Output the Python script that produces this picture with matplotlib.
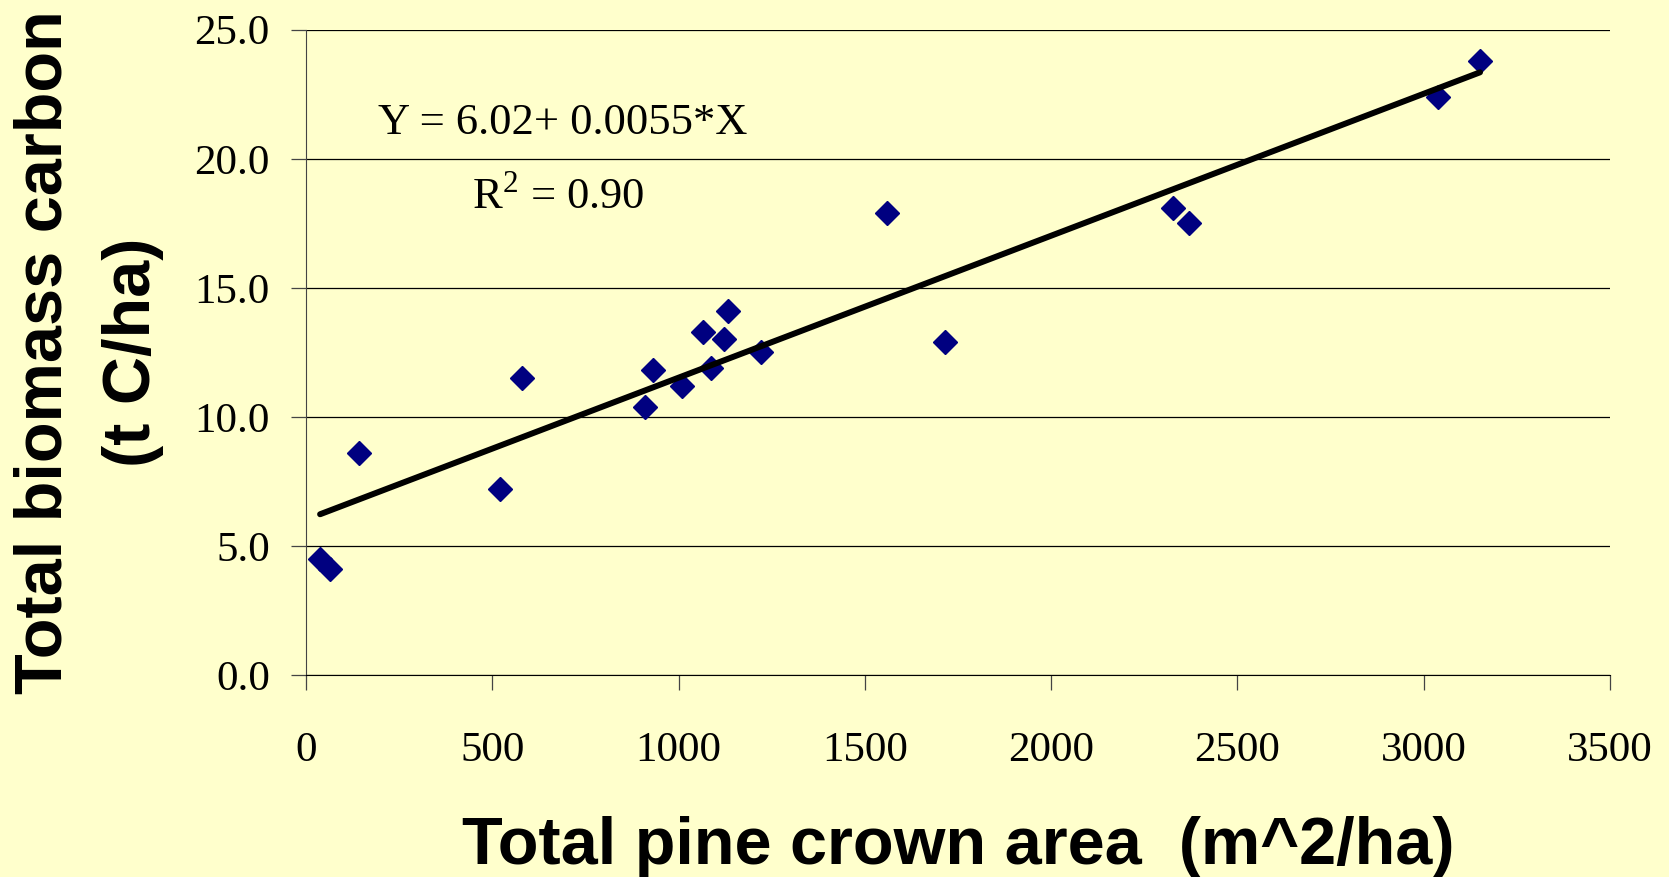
import matplotlib
matplotlib.use('Agg')
import matplotlib.pyplot as plt
from matplotlib.ticker import FormatStrFormatter
import numpy as np

# crown area (m^2/ha) and total biomass carbon (t C/ha)
crown_area = [38, 65, 143, 520, 580, 909, 931, 1009, 1066, 1086, 1123, 1134,
              1220, 1560, 1714, 2326, 2369, 3037, 3151]
carbon = [4.5, 4.1, 8.6, 7.2, 11.5, 10.4, 11.8, 11.2, 13.3, 11.9, 13.0, 14.1,
          12.5, 17.9, 12.9, 18.1, 17.5, 22.4, 23.8]

intercept = 6.02
slope = 0.0055
r2 = 0.90

bg = '#FFFFCC'
plt.rcParams['mathtext.fontset'] = 'custom'
plt.rcParams['mathtext.rm'] = 'Liberation Serif'

fig = plt.figure(figsize=(16.69, 8.77), dpi=100, facecolor=bg)
ax = fig.add_axes([0.1833, 0.2303, 0.7814, 0.7358], facecolor=bg)

ax.plot(crown_area, carbon, 'D', color='#000080', ms=12.5, zorder=3)

xs = np.sort(np.array(crown_area, dtype=float))
ax.plot(xs, intercept + slope * xs, color='black', lw=4.3,
        solid_capstyle='round', zorder=4)

ax.set_xlim(0, 3500)
ax.set_ylim(0, 25)
ax.set_xticks(np.arange(0, 3501, 500))
ax.set_yticks(np.arange(0, 25.1, 5))
ax.yaxis.set_major_formatter(FormatStrFormatter('%.1f'))
ax.grid(axis='y', color='black', lw=0.9)
ax.set_axisbelow(True)

for s in ['top', 'right']:
    ax.spines[s].set_visible(False)
ax.spines['left'].set_color('#444444')
ax.spines['bottom'].set_color('black')
ax.tick_params(axis='both', length=11, width=0.9, color='#444444',
               labelsize=31)
ax.tick_params(axis='y', pad=15)
ax.tick_params(axis='x', pad=30)
for lab in ax.get_xticklabels() + ax.get_yticklabels():
    lab.set_family('Liberation Serif')

lab_font = dict(family='Liberation Sans', weight='bold', size=48)
ax.set_xlabel('Total pine crown area  (m^2/ha)', labelpad=33, **lab_font)
ax.set_ylabel('Total biomass carbon\n(t C/ha)', labelpad=22,
              multialignment='center', linespacing=1.55, **lab_font)

ax.text(193, 20.95, f'Y = {intercept:.2f}+ {slope:.4f}*X', family='Liberation Serif',
        fontsize=32, va='baseline', ha='left')
ax.text(447, 18.05, f'R$^2$ = {r2:.2f}', family='Liberation Serif',
        fontsize=32, va='baseline', ha='left')

fig.savefig('out.png', dpi=100, facecolor=bg)
